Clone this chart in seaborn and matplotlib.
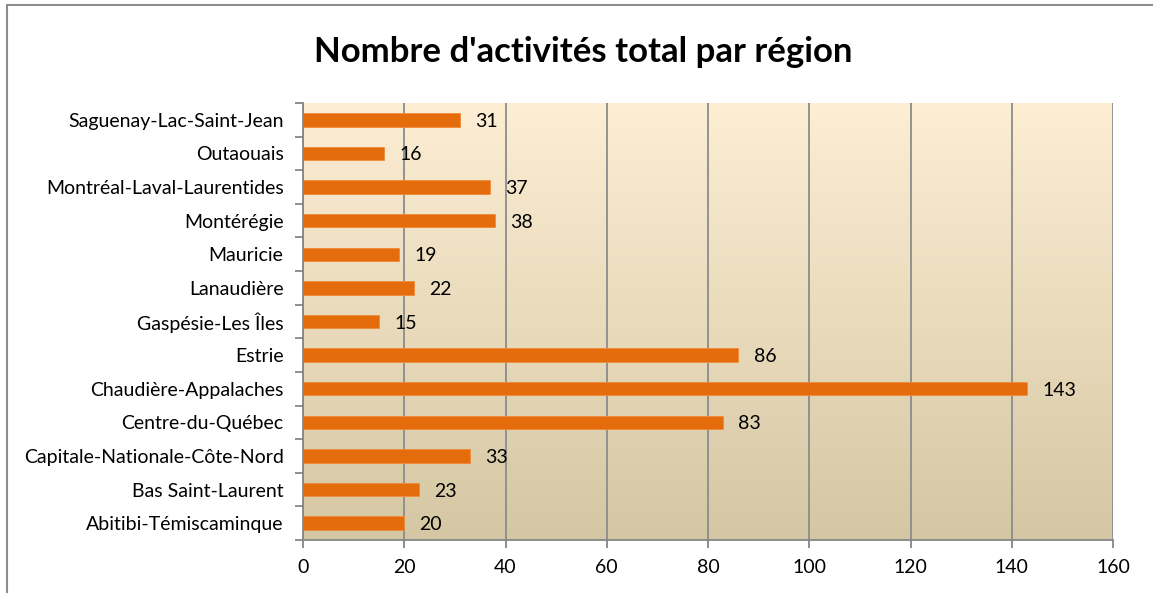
import numpy as np
import pandas as pd
import matplotlib
matplotlib.use("Agg")
import matplotlib.pyplot as plt
import seaborn as sns

regions = ["Saguenay-Lac-Saint-Jean", "Outaouais", "Montréal-Laval-Laurentides",
           "Montérégie", "Mauricie", "Lanaudière", "Gaspésie-Les Îles", "Estrie",
           "Chaudière-Appalaches", "Centre-du-Québec", "Capitale-Nationale-Côte-Nord",
           "Bas Saint-Laurent", "Abitibi-Témiscaminque"]
values = [31, 16, 37, 38, 19, 22, 15, 86, 143, 83, 33, 23, 20]
xticks = [0, 20, 40, 60, 80, 100, 120, 140, 160]

df = pd.DataFrame({"region": regions, "value": values})

sns.set_theme(style="white")
plt.rcParams['font.family'] = ['Lato', 'DejaVu Sans']
plt.rcParams['text.color'] = 'black'
plt.rcParams['xtick.labelcolor'] = 'black'
plt.rcParams['ytick.labelcolor'] = 'black'

fig = plt.figure(figsize=(11.53, 5.93), dpi=100)
ax = fig.add_axes([303/1153, 1-540/593, 810/1153, 437/593])

# gradient background
top = np.array([0xFD, 0xEE, 0xD4]) / 255
bot = np.array([0xD5, 0xC7, 0xA3]) / 255
t = np.linspace(0, 1, 256)[:, None]
grad = (top * (1 - t) + bot * t)[:, None, :]
ax.imshow(grad, extent=[0, 1, 0, 1], transform=ax.transAxes, aspect='auto', zorder=0)

sns.barplot(data=df, x="value", y="region", orient="h", color="#E46C0A",
            saturation=1, width=0.4, ax=ax, zorder=3, linewidth=0.6, edgecolor="#F08A3C")

ax.set_xlim(0, 160)
ax.set_ylim(len(regions) - 0.5, -0.5)
ax.set_xticks(xticks)
ax.set_xticklabels([str(v) for v in xticks], fontsize=14, color='black')
ax.set_xlabel("")
ax.set_ylabel("")
ax.grid(axis='x', color='#8C8C8C', linewidth=1.3, zorder=1)
for gl in ax.get_xgridlines():
    gl.set_zorder(1)

for i, v in enumerate(values):
    ax.text(v + 3, i, str(v), va='center_baseline', ha='left', fontsize=14, color='black', zorder=4)

# ticks
ax.set_yticks(range(len(regions)))
ax.set_yticklabels(regions, fontsize=14, color='black')
ax.tick_params(axis='y', which='major', length=0, pad=14)
ax.set_yticks(np.arange(-0.5, len(regions), 1), minor=True)
ax.tick_params(axis='y', which='minor', length=6, color='#868686', width=1.3, left=True)
ax.tick_params(axis='x', which='major', length=6, color='#868686', width=1.3, bottom=True, pad=8)

for s in ['top', 'right']:
    ax.spines[s].set_visible(False)
for s in ['left', 'bottom']:
    ax.spines[s].set_color('#868686')
    ax.spines[s].set_linewidth(1.3)
    ax.spines[s].set_zorder(5)

fig.text(583/1153, 1-52/593, "Nombre d'activités total par région", ha='center', va='center',
         fontsize=25, fontweight='bold', color='black')

# outer border
fig.patches.append(plt.Rectangle((7/1153, -0.01), 1.1, 1-5/593 + 0.01, transform=fig.transFigure,
                                 fill=False, edgecolor='#8C8C8C', linewidth=1.5))

fig.savefig("out.png", dpi=100)
